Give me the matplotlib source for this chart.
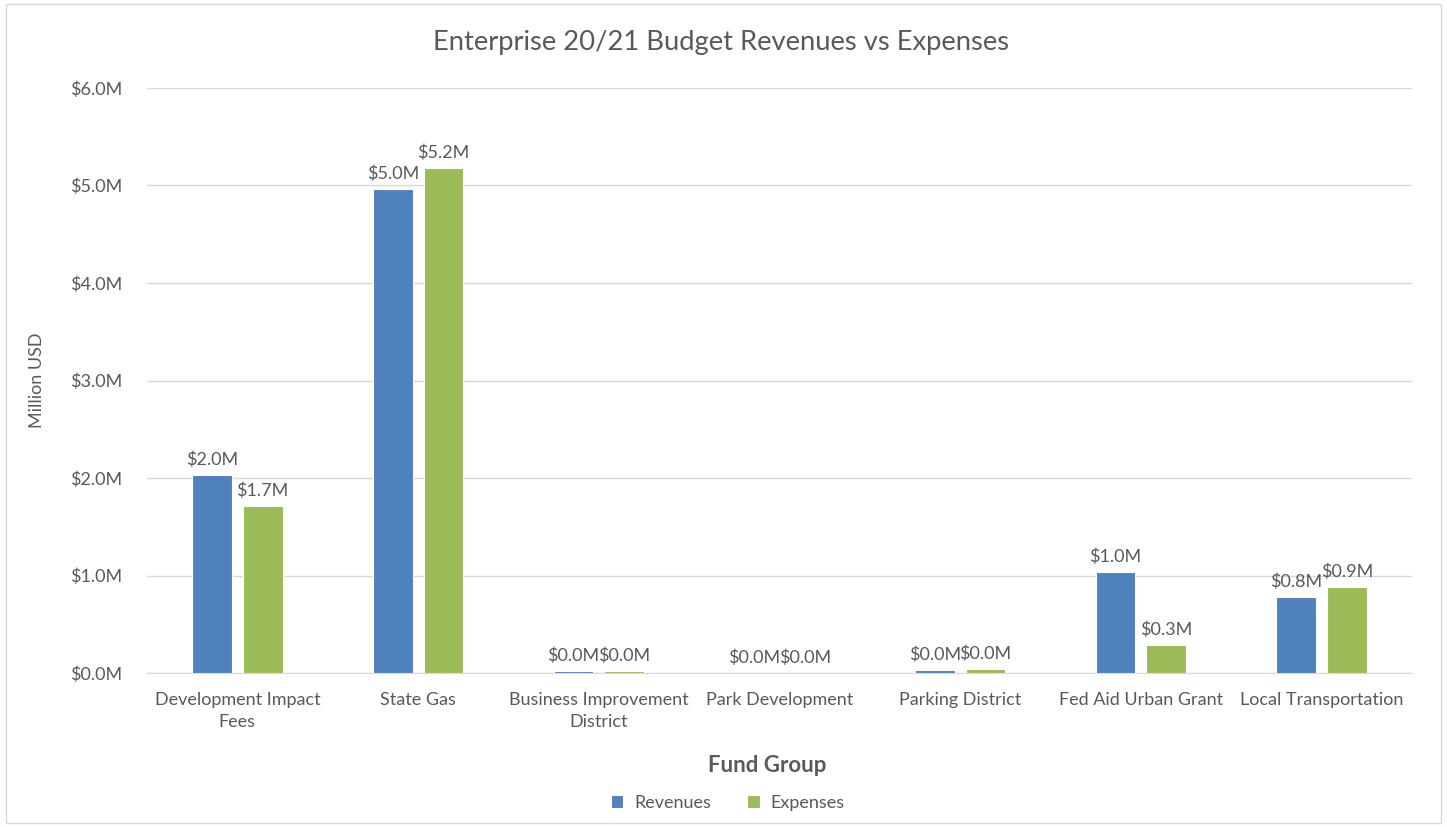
import numpy as np
import matplotlib.pyplot as plt
from matplotlib.patches import Rectangle

# fund groups and budget values (million USD)
categories = ["Development Impact\nFees", "State Gas", "Business Improvement\nDistrict",
              "Park Development", "Parking District", "Fed Aid Urban Grant",
              "Local Transportation"]
revenues = [2.03, 4.96, 0.02, 0.0, 0.035, 1.04, 0.78]
expenses = [1.71, 5.18, 0.02, 0.0, 0.044, 0.29, 0.88]
yticks = [0, 1, 2, 3, 4, 5, 6]

plt.rcParams['font.family'] = ['Lato', 'DejaVu Sans']
txt = '#595959'

fig = plt.figure(figsize=(14.47, 8.27), dpi=100)
ax = fig.add_axes([0.1016, 0.1862, 0.8742, 0.7074])

x = np.arange(len(categories))
w = 0.22
b1 = ax.bar(x - 0.14, revenues, w, color='#4F81BD', edgecolor='white', linewidth=0.8, label='Revenues', zorder=3)
b2 = ax.bar(x + 0.14, expenses, w, color='#9BBB59', edgecolor='white', linewidth=0.8, label='Expenses', zorder=3)
for bars in (b1, b2):
    ax.bar_label(bars, labels=['$%.1fM' % v for v in bars.datavalues], padding=5,
                 fontsize=13, color=txt)

ax.set_xlim(-0.5, len(categories) - 0.5)
ax.set_ylim(0, 6)
ax.set_yticks(yticks)
ax.set_yticklabels(['$%.1fM' % v for v in yticks])
ax.set_xticks(x)
ax.set_xticklabels(categories, linespacing=1.45)
ax.tick_params(axis='both', length=0, labelsize=13, labelcolor=txt)
ax.tick_params(axis='y', pad=18)
ax.tick_params(axis='x', pad=14)
ax.grid(axis='y', color='#D9D9D9', linewidth=1, zorder=0)
for s in ['top', 'right', 'left']:
    ax.spines[s].set_visible(False)
ax.spines['bottom'].set_color('#D9D9D9')

# title is centred on the whole chart, not the plot area
fig.text(0.498, 0.949, 'Enterprise 20/21 Budget Revenues vs Expenses', fontsize=19.7,
         color=txt, ha='center', va='center')
ax.set_ylabel('Million USD', fontsize=13, color=txt, labelpad=18)
ax.set_xlabel('Fund Group', fontsize=16, fontweight='bold', color=txt, labelpad=18, x=0.49)

fig.legend(loc='center', bbox_to_anchor=(0.503, 0.029), ncol=2, frameon=False,
           fontsize=13, labelcolor=txt, handlelength=0.7, handleheight=0.7,
           columnspacing=2.0, handletextpad=0.6)

fig.patches.append(Rectangle((0.004, 0.005), 0.992, 0.99, transform=fig.transFigure,
                             fill=False, edgecolor='#D9D9D9', linewidth=1))

fig.savefig('out.png', dpi=100)
